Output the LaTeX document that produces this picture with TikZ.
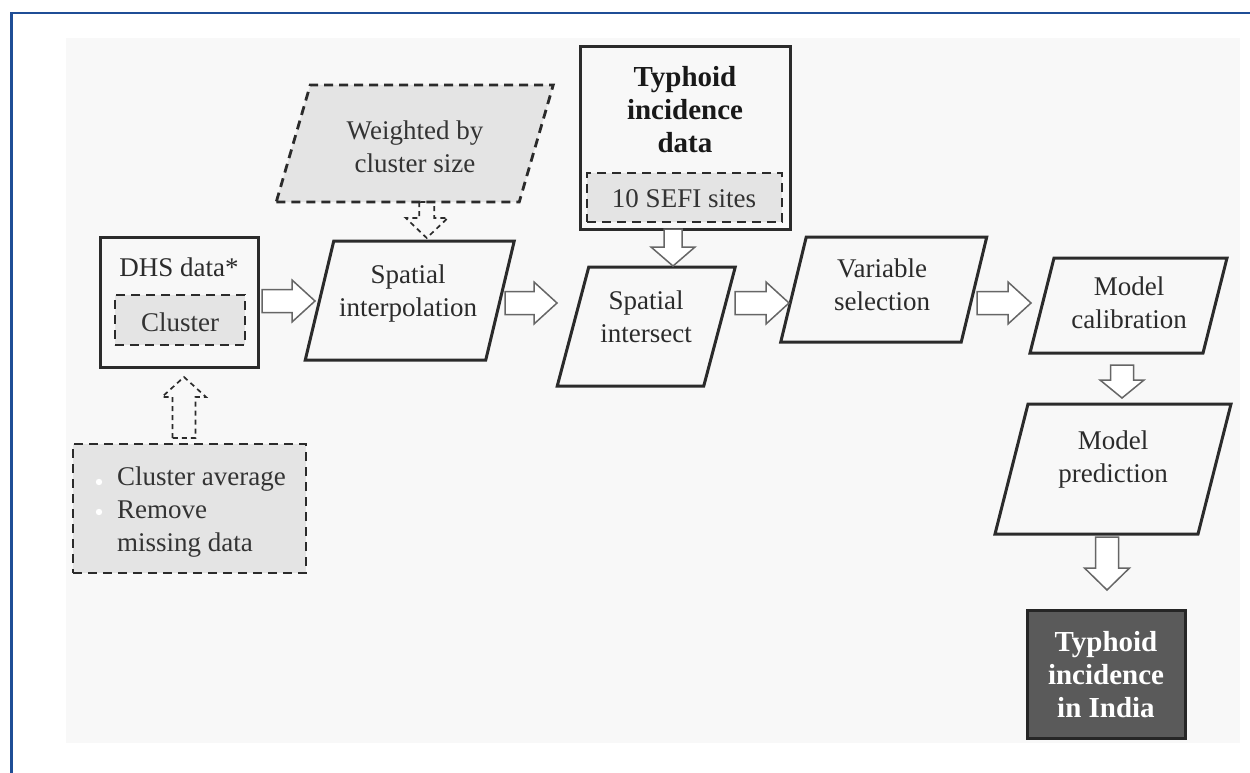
\documentclass[tikz,border=0pt]{standalone}
\usepackage{fontspec}
\setmainfont{Liberation Serif}
\usetikzlibrary{calc}
\definecolor{bordblue}{HTML}{1F4E96}
\definecolor{bgc}{HTML}{F8F8F8}
\definecolor{ink}{HTML}{2B2B2B}
\definecolor{dfill}{HTML}{E4E4E4}
\definecolor{resfill}{HTML}{5A5A5A}
\tikzset{
 ghost/.style={inner sep=0pt, outer sep=0pt, draw=none},
 solidbox/.style={draw=ink, line width=3pt},
 dashbox/.style={draw=ink, line width=2.8pt, dash pattern=on 9pt off 6pt, fill=dfill},
 txt/.style={text=ink, font=\fontsize{27}{33}\selectfont, align=center, inner sep=0pt},
 btxt/.style={text=black!90, font=\fontsize{29}{33}\selectfont\bfseries, align=center, inner sep=0pt},
 blockarr/.style={draw=black!60, line width=1.5pt, fill=white, line join=miter},
 dasharr/.style={draw=ink, line width=1.7pt, dash pattern=on 5pt off 4pt, fill=none},
}
% parallelogram: #1 style, #2 name, #3 cx, #4 cy, #5 edge width, #6 height, #7 slant
\newcommand\parabox[7][]{%
 \node[ghost, minimum width=#5pt, minimum height=#6pt] (#2) at (#3,#4) {};
 \draw[solidbox,#1] ([xshift=-#7pt/2]#2.south west) -- ([xshift=-#7pt/2]#2.south east)
   -- ([xshift=#7pt/2]#2.north east) -- ([xshift=#7pt/2]#2.north west) -- cycle;
}
% block arrows: #1 style, #2 start, #3 tip, #4 shaft half, #5 head half, #6 head length
\newcommand\harr[6][]{\draw[blockarr,#1] let \p1=(#2),\p2=(#3) in
 (\x1,\y1+#4pt) -- (\x2-#6pt,\y1+#4pt) -- (\x2-#6pt,\y1+#5pt) -- (\x2,\y1)
 -- (\x2-#6pt,\y1-#5pt) -- (\x2-#6pt,\y1-#4pt) -- (\x1,\y1-#4pt) -- cycle;}
\newcommand\darr[6][]{\draw[blockarr,#1] let \p1=(#2),\p2=(#3) in
 (\x1-#4pt,\y1) -- (\x1-#4pt,\y2+#6pt) -- (\x1-#5pt,\y2+#6pt) -- (\x1,\y2)
 -- (\x1+#5pt,\y2+#6pt) -- (\x1+#4pt,\y2+#6pt) -- (\x1+#4pt,\y1) -- cycle;}
\newcommand\uarr[6][]{\draw[blockarr,#1] let \p1=(#2),\p2=(#3) in
 (\x1-#4pt,\y1) -- (\x1-#4pt,\y2-#6pt) -- (\x1-#5pt,\y2-#6pt) -- (\x1,\y2)
 -- (\x1+#5pt,\y2-#6pt) -- (\x1+#4pt,\y2-#6pt) -- (\x1+#4pt,\y1) -- cycle;}
\begin{document}
\begin{tikzpicture}[x=1pt,y=-1pt]
\useasboundingbox (0,0) rectangle (1250,773);
\fill[white] (0,0) rectangle (1250,773);
\draw[bordblue, line width=2.5pt] (11.5,773) -- (11.5,13) -- (1250,13);
\fill[bgc] (66,38) rectangle (1240,743);

% DHS
\node[ghost, solidbox, minimum width=158pt, minimum height=130pt] (dhs) at (179,302) {};
\node[txt] (dhst) at (179,267) {DHS data*};
\node[ghost, dashbox, minimum width=130pt, minimum height=50pt] (clu) at (180,320) {};
\node[txt, text=black!80] (clut) at (180,322) {Cluster};

% bullets
\node[ghost, dashbox, minimum width=233pt, minimum height=129pt] (blt) at (189.5,508.5) {};
\node[txt, align=left, anchor=west, text=black!80] (bltt) at (117,512) {Cluster average\\Remove\\missing data};
\fill[white] (99,482) circle (3.2pt) (99,512) circle (3.2pt);

% Typhoid data
\node[ghost, solidbox, minimum width=210pt, minimum height=182pt] (typh) at (685,138) {};
\node[btxt] (typht) at (685,110) {Typhoid\\incidence\\data};
\node[ghost, dashbox, minimum width=195pt, minimum height=49pt] (sefi) at (684.5,197.5) {};
\node[txt, text=black!80] (sefit) at (684,199) {10 SEFI sites};

% parallelograms
\parabox[dashbox]{wgt}{414.75}{143.5}{243}{117}{34}
\node[txt, text=black!80] (wgtt) at (415,146.5) {Weighted by\\cluster size};
\parabox{interp}{409.75}{300.5}{180.5}{119}{28.5}
\node[txt] (interpt) at (408,293.5) {Spatial\\interpolation};
\parabox{isect}{646.25}{326.5}{146.5}{119}{31.5}
\node[txt] (isectt) at (646,316.5) {Spatial\\intersect};
\parabox{vsel}{883.75}{289.5}{180.5}{105}{25.5}
\node[txt] (vselt) at (882,285) {Variable\\selection};
\parabox{calib}{1128.5}{305.5}{173}{95}{24}
\node[txt] (calibt) at (1129,302.5) {Model\\calibration};
\parabox{pred}{1113}{469}{203}{130}{33}
\node[txt] (predt) at (1113,460) {Model\\prediction};

% result
\node[ghost, draw=black!85, line width=3pt, fill=resfill, minimum width=158pt, minimum height=128pt] (res) at (1106,674) {};
\node[btxt, text=white] (rest) at (1106,675) {Typhoid\\incidence\\in India};

% arrows
\harr{$(dhs.east)+(4,-1)$}{$(interp.west)+(-4.5,0)$}{11.5}{21}{23}
\harr{$(interp.east)+(5,2.5)$}{$(isect.west)+(-16,0)$}{11.5}{21}{23}
\harr{$(isect.east)+(15.5,-23.5)$}{$(vsel.west)+(-4.5,0)$}{11.5}{21}{23}
\harr{$(vsel.east)+(3,13.5)$}{$(calib.west)+(-11,0)$}{11.5}{21}{23}
\darr{$(typh.south)+(-12,0)$}{$(isect.north)+(0,-1)$}{9}{22}{19}
\darr{$(calib.south)+(-6.5,12)$}{$(pred.north)+(0,-6)$}{11.5}{22}{18}
\darr{$(pred.south)+(-6,3)$}{$(res.north)+(0,-20)$}{11.5}{22.5}{22}
\darr[dasharr]{$(wgt.south)+(12,0)$}{$(interp.north)+(0,-3)$}{7.5}{21}{20}
\uarr[dasharr]{$(blt.north)+(-5.5,-6)$}{$(dhs.south)+(0,10)$}{11.5}{22}{20}
\end{tikzpicture}
\end{document}
